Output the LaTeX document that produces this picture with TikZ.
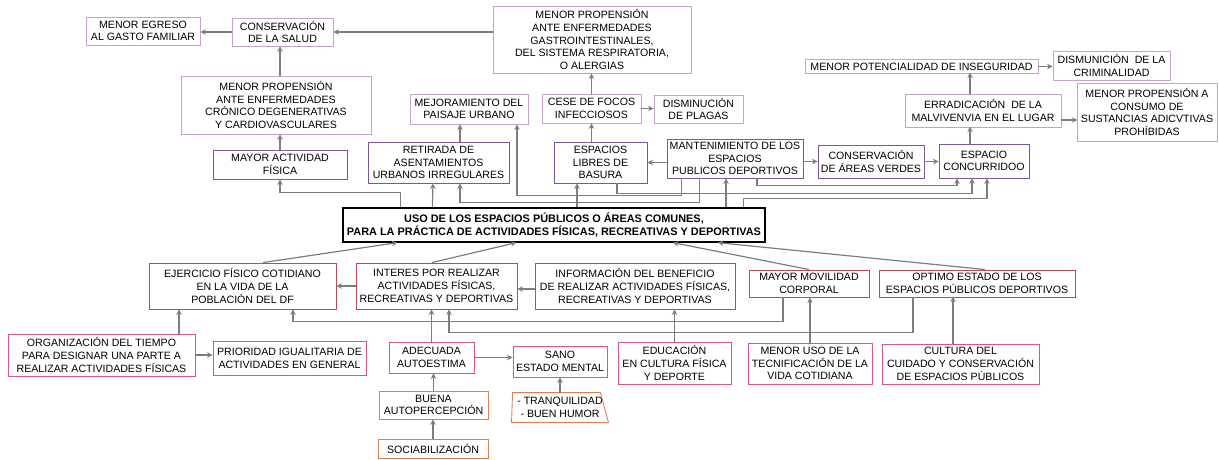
\documentclass[tikz,border=0pt]{standalone}
\usepackage{fontspec}
\setmainfont{Liberation Sans}
\usetikzlibrary{arrows.meta}
\definecolor{lilac}{RGB}{200,160,205}
\definecolor{plum}{RGB}{130,85,155}
\definecolor{crimson}{RGB}{195,70,85}
\definecolor{rosepink}{RGB}{225,80,140}
\definecolor{burntorange}{RGB}{225,125,80}
\definecolor{arrowgrey}{RGB}{125,125,125}
\tikzset{%
    box/.style={draw, align=center, inner sep=0pt, line width=0.9pt,
        font=\fontsize{10.6}{12.7}\selectfont},
    lilacbox/.style={box, draw=lilac},
    plumbox/.style={box, draw=plum},
    redbox/.style={box, draw=crimson},
    pinkbox/.style={box, draw=rosepink},
    orangebox/.style={box, draw=burntorange},
    arr/.style={draw=arrowgrey, line width=1.2pt,
        -{Stealth[length=5.5pt,width=5.5pt]}}
}

\begin{document}
\begin{tikzpicture}[x=1pt, y=-1pt]
    \useasboundingbox (0,0) rectangle (1219,460);

    % top: consequences
    \node[lilacbox, minimum width=114pt, minimum height=28pt] (egreso) at (143,31) {MENOR EGRESO\\AL GASTO FAMILIAR};
    \node[lilacbox, minimum width=101pt, minimum height=28pt] (salud) at (282.5,32) {CONSERVACIÓN\\DE LA SALUD};
    \node[lilacbox, minimum width=198pt, minimum height=67pt] (gastro) at (592,39.5) {MENOR PROPENSIÓN\\ANTE ENFERMEDADES\\GASTROINTESTINALES,\\DEL SISTEMA RESPIRATORIA,\\O ALERGIAS};
    \node[lilacbox, minimum width=190pt, minimum height=58pt] (cronico) at (276,105) {MENOR PROPENSIÓN\\ANTE ENFERMEDADES\\CRÓNICO DEGENERATIVAS\\Y CARDIOVASCULARES};
    \node[lilacbox, minimum width=118pt, minimum height=30pt] (mejor) at (469,109) {MEJORAMIENTO DEL\\PAISAJE URBANO};
    \node[lilacbox, minimum width=99pt, minimum height=29pt] (cese) at (591.5,108.5) {CESE DE FOCOS\\INFECCIOSOS};
    \node[lilacbox, minimum width=89pt, minimum height=28pt] (plagas) at (698.5,109) {DISMINUCIÓN\\DE PLAGAS};
    \node[lilacbox, minimum width=233pt, minimum height=14pt] (insegur) at (921.5,66.5) {MENOR POTENCIALIDAD DE INSEGURIDAD};
    \node[lilacbox, minimum width=117pt, minimum height=29pt] (crimin) at (1111.5,65.5) {DISMUNICIÓN\ \ DE LA\\CRIMINALIDAD};
    \node[lilacbox, minimum width=156pt, minimum height=33pt] (errad) at (983,110.5) {ERRADICACIÓN\ \ DE LA\\MALVIVENVIA EN EL LUGAR};
    \node[lilacbox, minimum width=140pt, minimum height=58pt] (sustancias) at (1147,112) {MENOR PROPENSIÓN A\\CONSUMO DE\\SUSTANCIAS ADICVTIVAS\\PROHÍBIDAS};

    % purple row
    \node[plumbox, minimum width=134pt, minimum height=29pt] (actividad) at (280,164.5) {MAYOR ACTIVIDAD\\FÍSICA};
    \node[plumbox, minimum width=141pt, minimum height=41pt] (retirada) at (438.5,162.5) {RETIRADA DE\\ASENTAMIENTOS\\URBANOS IRREGULARES};
    \node[plumbox, minimum width=93pt, minimum height=41pt] (basura) at (600.5,162.5) {ESPACIOS\\LIBRES DE\\BASURA};
    \node[plumbox, minimum width=136pt, minimum height=39pt] (mant) at (735,158.5) {MANTENIMIENTO DE LOS\\ESPACIOS\\PUBLICOS DEPORTIVOS};
    \node[plumbox, minimum width=106pt, minimum height=33pt] (verdes) at (871,161.5) {CONSERVACIÓN\\DE ÁREAS VERDES};
    \node[plumbox, minimum width=90pt, minimum height=34pt] (concurrido) at (984,161) {ESPACIO\\CONCURRIDOO};

    % central problem
    \node[box, line width=1.3pt, minimum width=422pt, minimum height=34pt, font=\fontsize{10.9}{12.8}\selectfont\bfseries] (uso) at (554,225) {USO DE LOS ESPACIOS PÚBLICOS O ÁREAS COMUNES,\\PARA LA PRÁCTICA DE ACTIVIDADES FÍSICAS, RECREATIVAS Y DEPORTIVAS};

    % red row
    \node[redbox, minimum width=187pt, minimum height=46pt] (ejercicio) at (242.5,286) {EJERCICIO FÍSICO COTIDIANO\\EN LA VIDA DE LA\\POBLACIÓN DEL DF};
    \node[redbox, minimum width=161pt, minimum height=46pt] (interes) at (436.5,286) {INTERES POR REALIZAR\\ACTIVIDADES FÍSICAS,\\RECREATIVAS Y DEPORTIVAS};
    \node[redbox, minimum width=200pt, minimum height=46pt] (info) at (635,286) {INFORMACIÓN DEL BENEFICIO\\DE REALIZAR ACTIVIDADES FÍSICAS,\\RECREATIVAS Y DEPORTIVAS};
    \node[redbox, minimum width=120pt, minimum height=27pt] (movil) at (809,283.5) {MAYOR MOVILIDAD\\CORPORAL};
    \node[redbox, minimum width=196pt, minimum height=27pt] (optimo) at (977,283.5) {OPTIMO ESTADO DE LOS\\ESPACIOS PÚBLICOS DEPORTIVOS};

    % bottom: causes
    \node[pinkbox, minimum width=187pt, minimum height=42pt] (org) at (101.5,355) {ORGANIZACIÓN DEL TIEMPO\\PARA DESIGNAR UNA PARTE A\\REALIZAR ACTIVIDADES FÍSICAS};
    \node[pinkbox, minimum width=153pt, minimum height=34pt] (prior) at (289.5,358) {PRIORIDAD IGUALITARIA DE\\ACTIVIDADES EN GENERAL};
    \node[pinkbox, minimum width=85pt, minimum height=31pt] (adecuada) at (431.5,357.5) {ADECUADA\\AUTOESTIMA};
    \node[pinkbox, minimum width=94pt, minimum height=31pt] (sano) at (560,361.5) {SANO\\ESTADO MENTAL};
    \node[pinkbox, minimum width=113pt, minimum height=42pt] (educ) at (674.5,363) {EDUCACIÓN\\EN CULTURA FÍSICA\\Y DEPORTE};
    \node[pinkbox, minimum width=124pt, minimum height=41pt] (menoruso) at (810,363.5) {MENOR USO DE LA\\TECNIFICACIÓN DE LA\\VIDA COTIDIANA};
    \node[pinkbox, minimum width=157pt, minimum height=40pt] (cultura) at (960.5,364) {CULTURA DEL\\CUIDADO Y CONSERVACIÓN\\DE ESPACIOS PÚBLICOS};
    \node[orangebox, minimum width=109pt, minimum height=28pt] (buena) at (433.5,405) {BUENA\\AUTOPERCEPCIÓN};
    \node[orangebox, minimum width=110pt, minimum height=19pt] (socia) at (433,448.5) {SOCIABILIZACIÓN};
    \node[box, draw=none, minimum width=96pt, minimum height=29pt] (tranq) at (560,407.5) {- TRANQUILIDAD\\- BUEN HUMOR};
    \draw[burntorange, line width=0.9pt] ([xshift=1pt]tranq.north west) -- ([xshift=-8pt]tranq.north east)
        -- (tranq.south east) -- (tranq.south west) -- cycle;

    % upper connectors
    \draw[arr] (salud.west) -- (salud.west -| egreso.east);
    \draw[arr] (gastro.west |- salud.east) -- (salud.east);
    \draw[arr] (cronico.north -| actividad.north) -- (actividad.north |- salud.south);
    \draw[arr] (actividad.north) -- (actividad.north |- cronico.south);
    \draw[arr] ([xshift=58pt]uso.north west) -- ++(0,-15) -| (actividad.south);
    \draw[arr] ([xshift=90pt]uso.north west) -- ([xshift=-5.5pt]retirada.south);
    \draw[arr] ([xshift=21.5pt]retirada.north) -- ([xshift=-9pt]mejor.south);
    \draw[arr] ([xshift=33pt]mant.south west) -- ++(0,24) -| ([xshift=21.5pt]retirada.south);
    \draw[arr] ([xshift=15pt]mant.south west) -- ++(0,17) -| ([xshift=48pt]mejor.south);
    \draw[arr] ([xshift=16.5pt]basura.south) -- ++(0,10) -| ([xshift=-12pt]concurrido.south);
    \draw[arr] ([xshift=23pt]uso.north) -- ([xshift=-23.5pt]basura.south);
    \draw[arr] ([xshift=172pt]uso.north) -- ([xshift=-9pt]mant.south);
    \draw[arr] ([xshift=22pt]mant.south) -- ++(0,7) -| ([xshift=-27pt]concurrido.south);
    \draw[arr] ([xshift=-22pt]uso.north east) -- ++(0,-9) -| ([xshift=3pt]concurrido.south);
    \draw[arr] ([yshift=-4pt]mant.west) -- (basura.east);
    \draw[arr] (cese.south |- basura.north) -- (cese.south);
    \draw[arr] (cese.north) -- (cese.north |- gastro.south);
    \draw[arr] (mant.east |- verdes.west) -- (verdes.west);
    \draw[arr] ([xshift=-14pt]concurrido.north) -- ++(0,-17);
    \draw[arr] ([xshift=-13pt]errad.north) -- ++(0,-21);
    \draw[arr] ([yshift=-9.5pt]errad.east) -- ++(16,0);
    \foreach \from/\to in {cese/plagas, verdes/concurrido, insegur/crimin}
    {
    \draw[arr] (\from.east) -- (\to.west |- \from.east);
    }

    % lower connectors
    \draw[arr] ([xshift=20.5pt]ejercicio.north) -- ([xshift=55pt]uso.south west);
    \draw[arr] ([xshift=-4.5pt]interes.north) -- ([xshift=174pt]uso.south west);
    \draw[arr] (movil.north) -- ([xshift=119pt]uso.south);
    \draw[arr] ([xshift=8pt]optimo.north) -- ([xshift=164pt]uso.south);
    \draw[arr] ([yshift=-3pt]info.west) -- ([yshift=-3pt]interes.east);
    \draw[arr] (interes.west) -- (ejercicio.east);
    \draw[arr] ([xshift=-26pt]movil.south) -- ++(0,24) -| ([xshift=50.5pt]ejercicio.south);
    \draw[arr] ([xshift=-64pt]optimo.south) -- ++(0,35) -| ([xshift=12.5pt]interes.south);
    \draw[arr] ([xshift=77.5pt]org.north) -- ([xshift=-63.5pt]ejercicio.south);
    \draw[arr] (org.east) -- (org.east -| prior.west);
    \draw[arr] (adecuada.east) -- (adecuada.east -| sano.west);
    \draw[arr] ([xshift=-7.5pt]cultura.north) -- ++(0,-47);
    \foreach \from/\to in {adecuada/interes, buena/adecuada, socia/buena, tranq/sano, educ/info, menoruso/movil}
    {
    \draw[arr] (\from.north) -- (\from.north |- \to.south);
    }
\end{tikzpicture}
\end{document}
